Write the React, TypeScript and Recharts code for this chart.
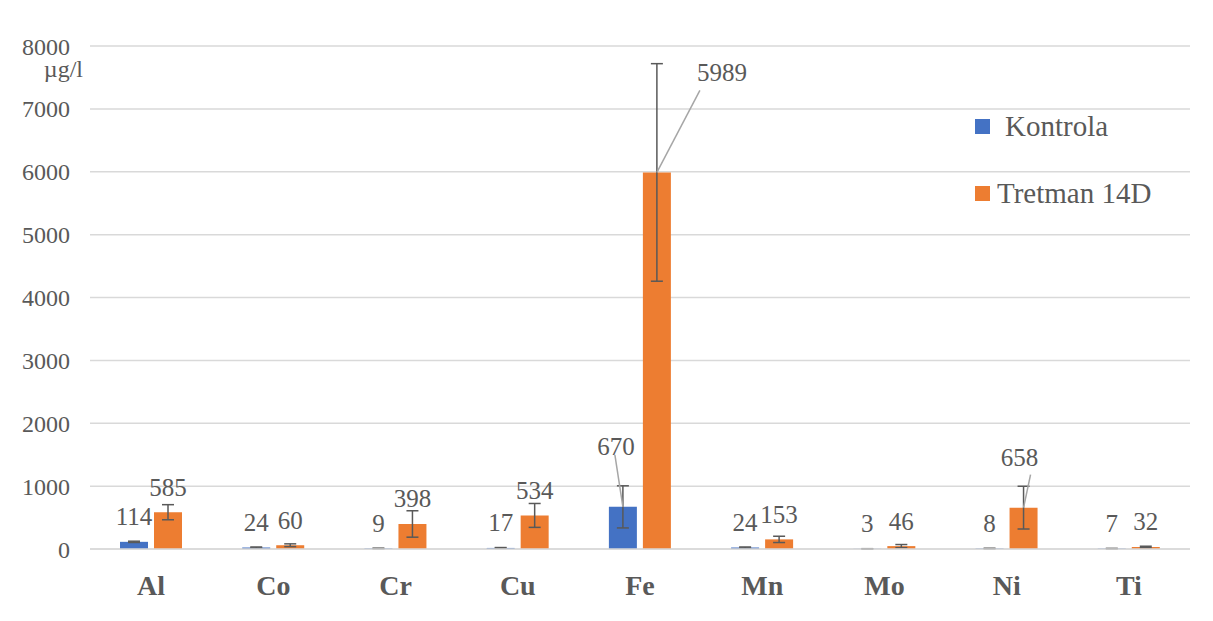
import { BarChart, Bar, XAxis, YAxis, CartesianGrid, Legend, LabelList, ErrorBar, Label } from 'recharts';

const categories = ['Al', 'Co', 'Cr', 'Cu', 'Fe', 'Mn', 'Mo', 'Ni', 'Ti'];
const kontrola = [114, 24, 9, 17, 670, 24, 3, 8, 7];
const tretman = [585, 60, 398, 534, 5989, 153, 46, 658, 32];
const kontrolaErr = [10, 8, 4, 6, 335, 8, 2, 4, 3];
const tretmanErr = [120, 22, 210, 190, 1730, 50, 25, 340, 12];
const yTicks = [0, 1000, 2000, 3000, 4000, 5000, 6000, 7000, 8000];
const seriesNames = ['Kontrola', 'Tretman 14D'];

const data = categories.map((name, i) => ({
  name,
  kontrola: kontrola[i],
  tretman: tretman[i],
  kontrolaErr: kontrolaErr[i],
  tretmanErr: tretmanErr[i],
}));

const FONT = 'Liberation Serif, Times New Roman, serif';
const TEXT = '#595959';
const BLUE = '#4472C4';
const ORANGE = '#ED7D31';

// labels that Excel had dragged away from the bar, with a leader line
// [dx label, dy label, dx line end, dy line end] relative to bar top centre
const kontrolaCallouts: Record<number, number[]> = { 4: [-7, -60, -8, -52] };
const tretmanCallouts: Record<number, number[]> = { 4: [65, -100, 43, -82], 7: [-4, -50, 7, -33] };

const makeLabel = (callouts: Record<number, number[]>) => (props: any) => {
  const { x, y, width, value, index } = props;
  const cx = Number(x) + Number(width) / 2;
  const top = Number(y);
  const c = callouts[index];
  if (c) {
    return (
      <g>
        <line x1={cx} y1={top} x2={cx + c[2]} y2={top + c[3]} stroke="#a6a6a6" strokeWidth={1.5} />
        <text x={cx + c[0]} y={top + c[1]} textAnchor="middle" dominantBaseline="central" style={{ fontFamily: FONT }} fontSize={25} fill={TEXT}>
          {value}
        </text>
      </g>
    );
  }
  return (
    <text x={cx} y={top - 25} textAnchor="middle" dominantBaseline="central" style={{ fontFamily: FONT }} fontSize={25} fill={TEXT}>
      {value}
    </text>
  );
};

const renderLegend = () => (
  <div style={{ fontFamily: FONT, color: TEXT, fontSize: 29 }}>
    <div style={{ display: 'flex', alignItems: 'center', height: 30 }}>
      <span style={{ width: 15, height: 15, background: BLUE, display: 'inline-block', marginRight: 15 }} />
      <span>{seriesNames[0]}</span>
    </div>
    <div style={{ display: 'flex', alignItems: 'center', height: 30, marginTop: 37 }}>
      <span style={{ width: 15, height: 15, background: ORANGE, display: 'inline-block', marginRight: 7 }} />
      <span>{seriesNames[1]}</span>
    </div>
  </div>
);

export default function App() {
  return (
    <div style={{ width: 1198, height: 606, outline: '1px solid #d9d9d9', background: '#fff', fontFamily: FONT }}>
      <BarChart
        width={1198}
        height={606}
        data={data}
        margin={{ top: 38, right: 16, bottom: 15, left: 0 }}
        barSize={28}
        barGap={6}
        style={{ fontFamily: FONT }}
      >
        <CartesianGrid vertical={false} stroke="#d9d9d9" strokeWidth={1.5} />
        <XAxis
          dataKey="name"
          height={50}
          axisLine={{ stroke: '#d9d9d9', strokeWidth: 1.5 }}
          tickLine={false}
          tickMargin={20}
          tick={{ fontFamily: FONT, fontSize: 28, fontWeight: 'bold', fill: TEXT }}
        />
        <YAxis
          width={82}
          domain={[0, 8000]}
          ticks={yTicks}
          axisLine={false}
          tickLine={false}
          tickMargin={14}
          tick={{ fontFamily: FONT, fontSize: 24, fill: TEXT }}
        >
          <Label
            content={(p: any) => {
              const vb = p.viewBox || {};
              return (
                <text x={vb.x + vb.width - 7} y={vb.y + 23} textAnchor="end" dominantBaseline="central" style={{ fontFamily: FONT }} fontSize={24} fill={TEXT}>
                  µg/l
                </text>
              );
            }}
          />
        </YAxis>
        <Legend
          layout="vertical"
          align="center"
          verticalAlign="middle"
          content={renderLegend}
          wrapperStyle={{ left: 967, top: 103, width: 'auto', height: 'auto' }}
        />
        <Bar dataKey="kontrola" name={seriesNames[0]} fill={BLUE} isAnimationActive={false}>
          <ErrorBar dataKey="kontrolaErr" width={6} stroke={TEXT} strokeWidth={1.5} />
          <LabelList dataKey="kontrola" content={makeLabel(kontrolaCallouts)} />
        </Bar>
        <Bar dataKey="tretman" name={seriesNames[1]} fill={ORANGE} isAnimationActive={false}>
          <ErrorBar dataKey="tretmanErr" width={6} stroke={TEXT} strokeWidth={1.5} />
          <LabelList dataKey="tretman" content={makeLabel(tretmanCallouts)} />
        </Bar>
      </BarChart>
    </div>
  );
}
